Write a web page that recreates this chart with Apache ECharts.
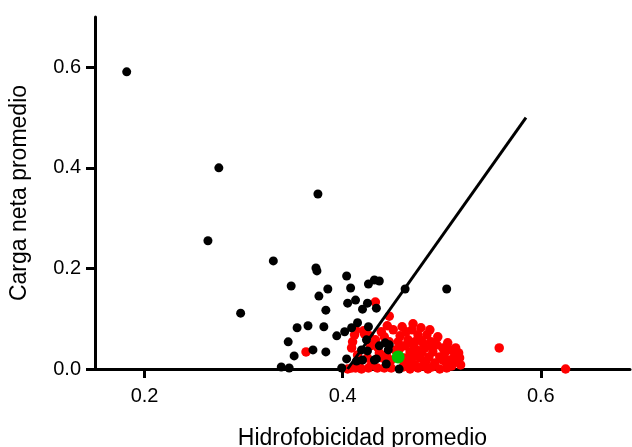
<!DOCTYPE html>
<html>
<head>
<meta charset="utf-8">
<script src="https://cdn.jsdelivr.net/npm/echarts@6/dist/echarts.min.js"></script>
<style>html,body{margin:0;padding:0;background:#fff}#c{width:632px;height:447px}</style>
</head>
<body>
<div id="c"></div>
<script>
var xTicks = [0.2, 0.4, 0.6];
var yTicks = [0.0, 0.2, 0.4, 0.6];

var blackX = [0.182,0.275,0.264,0.375,0.330,0.297,0.373,0.374,0.348,0.404,0.385,0.376,0.408,0.426,0.432,0.437,0.463,0.505,0.405,0.413,0.425,0.420,0.434,0.383,0.354,0.365,0.381,0.394,0.402,0.409,0.415,0.426,0.345,0.351,0.370,0.383,0.419,0.425,0.424,0.437,0.443,0.446,0.434,0.444,0.404,0.414,0.420,0.338,0.346,0.399,0.457,0.447,0.432];
var blackY = [0.591,0.400,0.255,0.348,0.215,0.111,0.201,0.195,0.165,0.185,0.159,0.145,0.161,0.169,0.177,0.175,0.159,0.159,0.131,0.137,0.131,0.119,0.121,0.117,0.082,0.086,0.084,0.066,0.074,0.082,0.092,0.084,0.054,0.026,0.038,0.034,0.038,0.036,0.058,0.046,0.052,0.038,0.020,0.010,0.020,0.016,0.018,0.004,0.002,0.002,0.000,0.048,0.018];

var redX = [0.363,0.433,0.447,0.558,0.625,0.412,0.410,0.422,0.442,0.447,0.471,0.479,0.485,0.506,0.473,0.481,0.489,0.501,0.517,0.516,0.519,0.498,0.501,0.493,0.487,0.480,0.475,0.466,0.473,0.481,0.490,0.461,0.449,0.437,0.429,0.435,0.442,0.449,0.462,0.468,0.463,0.456,0.453,0.458,0.466,0.470,0.476,0.483,0.491,0.495,0.503,0.508,0.510,0.505,0.498,0.486,0.476,0.468,0.419,0.413,0.409,0.417,0.415,0.428,0.433,0.439,0.445,0.451,0.460,0.464,0.478,0.484,0.504,0.513,0.514,0.496,0.488,0.425,0.440,0.456,0.470,0.471,0.478,0.409,0.413,0.427,0.421,0.458,0.444,0.462,0.435,0.474,0.509,0.491,0.426,0.518,0.405];
var redY = [0.034,0.133,0.105,0.042,0.000,0.068,0.054,0.070,0.064,0.054,0.090,0.082,0.068,0.052,0.054,0.052,0.054,0.042,0.032,0.014,0.008,0.024,0.018,0.012,0.024,0.034,0.038,0.012,0.008,0.006,0.004,0.004,0.018,0.032,0.008,0.002,0.002,0.002,0.022,0.034,0.046,0.054,0.038,0.066,0.058,0.078,0.068,0.042,0.034,0.048,0.032,0.018,0.006,0.002,0.000,0.000,0.002,0.000,0.000,0.002,0.002,0.014,0.028,0.046,0.058,0.074,0.086,0.078,0.084,0.074,0.022,0.016,0.014,0.026,0.042,0.064,0.078,0.022,0.022,0.026,0.022,0.048,0.058,0.042,0.078,0.066,0.076,0.042,0.028,0.008,0.044,0.026,0.038,0.044,0.002,0.022,0.000];

var greenX = [0.456];
var greenY = [0.024];

var lineX = [0.405, 0.585];
var lineY = [0.0, 0.5];

function zip(a, b) { return a.map(function (v, i) { return [v, b[i]]; }); }

var FONT = '"Liberation Sans", Arial, sans-serif';
var chart = echarts.init(document.getElementById('c'), null, { renderer: 'canvas' });
chart.setOption({
  animation: false,
  backgroundColor: '#ffffff',
  grid: { left: 95, right: 2, top: 17, bottom: 78, containLabel: false, outerBoundsMode: 'none' },
  xAxis: {
    type: 'value', min: 0.15, max: 0.69,
    name: 'Hidrofobicidad promedio', nameLocation: 'middle', nameGap: 58,
    nameTextStyle: { fontFamily: FONT, fontSize: 23, color: '#000' },
    axisLine: { show: true, onZero: false, lineStyle: { color: '#000', width: 3 } },
    axisTick: { show: true, length: 9, customValues: xTicks, lineStyle: { color: '#000', width: 3 } },
    axisLabel: { customValues: xTicks, margin: 17, fontFamily: FONT, fontSize: 20, color: '#000',
      formatter: function (v) { return v.toFixed(1); } },
    splitLine: { show: false }
  },
  yAxis: {
    type: 'value', min: 0, max: 0.7,
    name: 'Carga neta promedio', nameLocation: 'middle', nameGap: 64,
    nameTextStyle: { fontFamily: FONT, fontSize: 23, color: '#000' },
    axisLine: { show: true, onZero: false, lineStyle: { color: '#000', width: 3 } },
    axisTick: { show: true, length: 9, customValues: yTicks, lineStyle: { color: '#000', width: 3 } },
    axisLabel: { customValues: yTicks, margin: 14, fontFamily: FONT, fontSize: 20, color: '#000',
      formatter: function (v) { return v.toFixed(1); } },
    splitLine: { show: false }
  },
  series: [
    { type: 'scatter', data: zip(redX, redY), symbolSize: 9.5, itemStyle: { color: '#ff0000', opacity: 1 }, z: 2 },
    { type: 'scatter', data: zip(blackX, blackY), symbolSize: 9, itemStyle: { color: '#000000', opacity: 1 }, z: 3 },
    { type: 'scatter', data: zip(greenX, greenY), symbolSize: 13, itemStyle: { color: '#00c000', opacity: 1 }, z: 5 },
    { type: 'line', data: zip(lineX, lineY), symbol: 'none', lineStyle: { color: '#000', width: 3 }, z: 4 }
  ]
});
</script>
</body>
</html>
